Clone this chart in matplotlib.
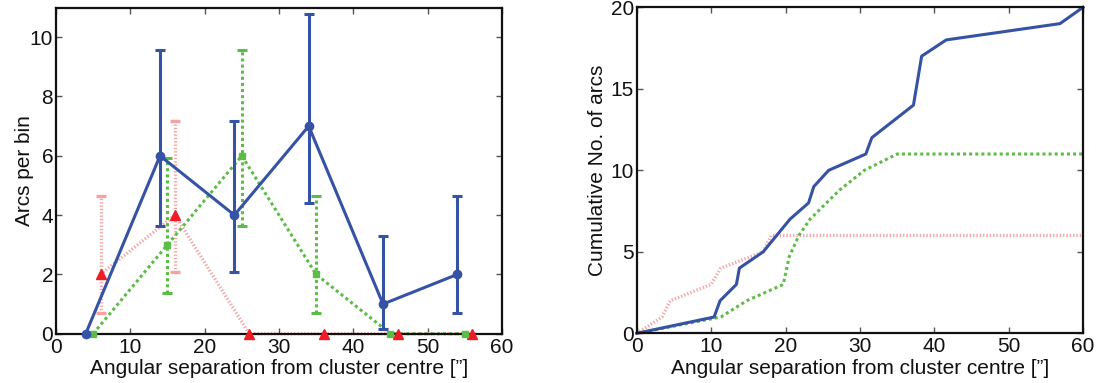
import numpy as np
import matplotlib
matplotlib.use("Agg")
import matplotlib.pyplot as plt

plt.rcParams['font.family'] = ['Liberation Sans', 'DejaVu Sans']
plt.rcParams['font.size'] = 15

BLUE = '#3652a4'
GREEN = '#5cbd46'
RED = '#ee1c25'
PINK = '#f5a4a4'

# left panel: arcs per bin (counts with Poisson bounds)
blue_x = [4, 14, 24, 34, 44, 54]
blue_y = [0, 6, 4, 7, 1, 2]
blue_lo = [0, 3.62, 2.09, 4.42, 0.17, 0.71]
blue_hi = [0, 9.58, 7.16, 10.77, 3.30, 4.64]

green_x = [5, 15, 25, 35, 45, 55]
green_y = [0, 3, 6, 2, 0, 0]
green_lo = [0, 1.37, 3.62, 0.71, 0, 0]
green_hi = [0, 5.92, 9.58, 4.64, 0, 0]

red_x = [6, 16, 26, 36, 46, 56]
red_y = [2, 4, 0, 0, 0, 0]
red_lo = [0.71, 2.09, 0, 0, 0, 0]
red_hi = [4.64, 7.16, 0, 0, 0, 0]

# right panel: cumulative counts
cum_blue_x = [0, 10.4, 11.2, 13.4, 13.8, 17.0, 18.8, 20.6, 23.1, 23.8, 25.8,
              30.8, 31.6, 37.2, 38.3, 41.6, 56.9, 60]
cum_blue_y = [0, 1, 2, 3, 4, 5, 6, 7, 8, 9, 10, 11, 12, 14, 17, 18, 19, 20]

cum_green_x = [0, 11.3, 14.8, 19.7, 20.5, 21.8, 23.3, 25.5, 27.3, 30.6, 35.0, 60]
cum_green_y = [0, 1, 2, 3, 4.7, 6, 7, 8, 8.8, 10, 11, 11]

cum_red_x = [0, 3.4, 4.5, 10.0, 11.3, 17.0, 18.1, 60]
cum_red_y = [0, 1, 2, 3, 4, 5, 6, 6]


def style_axes(ax, xlabel, ylabel, ylim, yticks, ylab_x):
    ax.set_xlim(0, 60)
    ax.set_ylim(*ylim)
    ax.set_xticks(range(0, 61, 10))
    ax.set_yticks(yticks)
    ax.tick_params(direction='in', top=True, right=True, length=4, width=1,
                   color='#555555', labelsize=15, labelcolor='#111111')
    ax.tick_params(axis='x', pad=3)
    ax.tick_params(axis='y', pad=2)
    for s in ax.spines.values():
        s.set_linewidth(1.6)
        s.set_color('#111111')
    ax.set_xlabel(xlabel, fontsize=15, color='#111111')
    ax.set_ylabel(ylabel, fontsize=15, color='#111111')
    ax.xaxis.set_label_coords(0.5, -0.078)
    ax.yaxis.set_label_coords(ylab_x, 0.5)


def draw_bins(ax, x, y, lo, hi, color, ls, lw, marker, ms, mcolor, els):
    x = np.array(x, float)
    y = np.array(y, float)
    lo = np.array(lo, float)
    hi = np.array(hi, float)
    ax.plot(x, y, color=color, linestyle=ls, lw=lw, zorder=2, clip_on=False)
    m = y > 0
    eb = ax.errorbar(x[m], y[m], yerr=[y[m] - lo[m], hi[m] - y[m]], fmt='none',
                     ecolor=color, elinewidth=lw, capsize=3.5, capthick=lw, zorder=2)
    eb[2][0].set_linestyle(els)
    ax.plot(x, y, linestyle='none', marker=marker, ms=ms, color=mcolor,
            mec=mcolor, zorder=3, clip_on=False)


fig = plt.figure(figsize=(11.02, 3.83), dpi=100)
ax1 = fig.add_axes([0.0508, 0.1287, 0.4047, 0.8517])
ax2 = fig.add_axes([0.5778, 0.1297, 0.4050, 0.8512])

xlab = 'Angular separation from cluster centre [\u201d]'

draw_bins(ax1, red_x, red_y, red_lo, red_hi, PINK, (0, (0.4, 0.6)), 2.4,
          '^', 6.5, RED, (0, (0.4, 0.6)))
draw_bins(ax1, green_x, green_y, green_lo, green_hi, GREEN, (0, (1, 1)), 2.2,
          's', 5, GREEN, (0, (1, 1)))
draw_bins(ax1, blue_x, blue_y, blue_lo, blue_hi, BLUE, '-', 2.2,
          'o', 6, BLUE, '-')
style_axes(ax1, xlab, 'Arcs per bin', (0, 11), range(0, 11, 2), -0.05)

ax2.plot(cum_red_x, cum_red_y, color=PINK, linestyle=(0, (0.4, 0.6)), lw=2.4)
ax2.plot(cum_green_x, cum_green_y, color=GREEN, linestyle=(0, (1, 1)), lw=2.2)
ax2.plot(cum_blue_x, cum_blue_y, color=BLUE, linestyle='-', lw=2.2, clip_on=False)
style_axes(ax2, xlab, 'Cumulative No. of arcs', (0, 20), range(0, 21, 5), -0.066)

fig.savefig('out.png', dpi=100)
